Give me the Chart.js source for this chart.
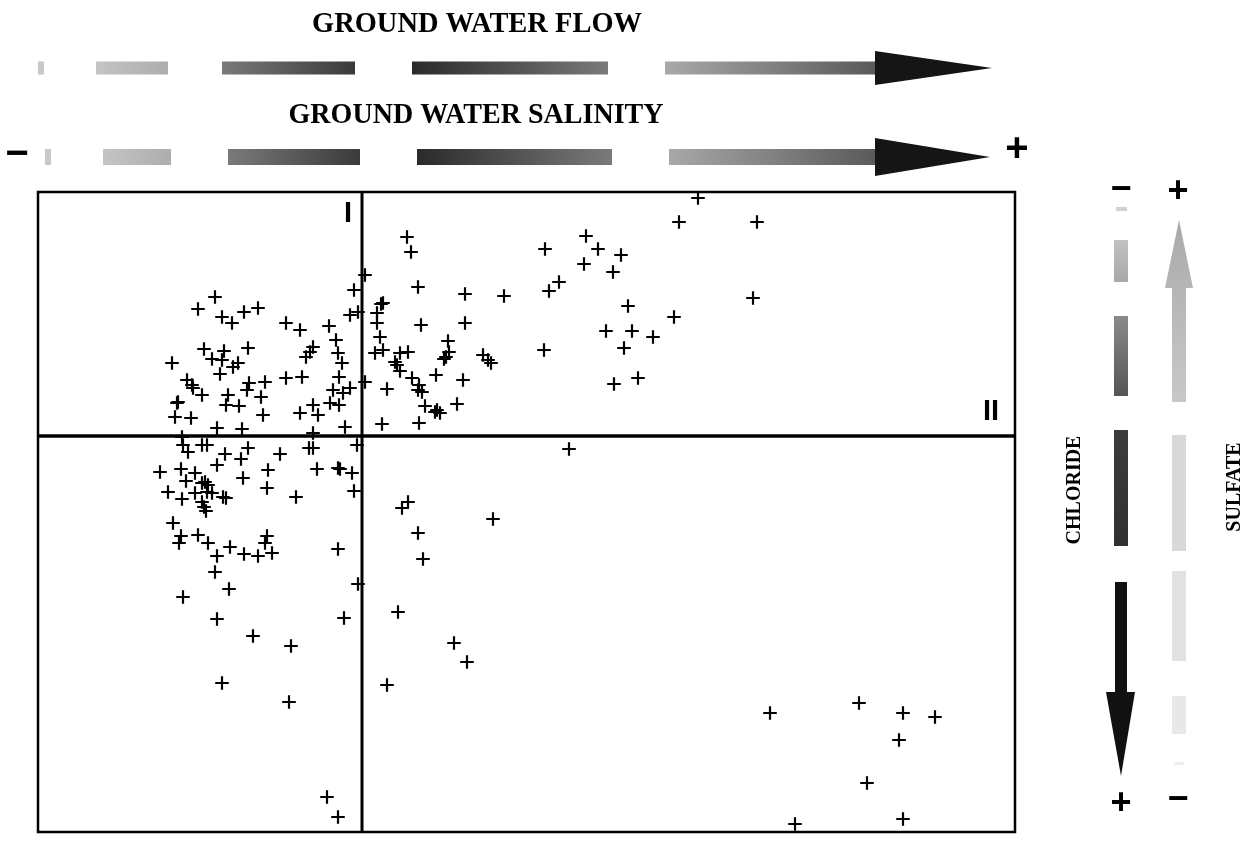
<!DOCTYPE html>
<html>
<head>
<meta charset="utf-8">
<script src="https://cdn.jsdelivr.net/npm/chart.js@4.4.1/dist/chart.umd.min.js"></script>
<style>
  html, body { margin: 0; padding: 0; background: #fff; }
  #wrap { width: 1253px; height: 865px; position: relative; }
  canvas { display: block; }
</style>
</head>
<body>
<div id="wrap"><canvas id="c" width="1253" height="865"></canvas></div>
<script>
// Factor-score style coordinates (x: flow/salinity axis, y: sulfate vs chloride axis)
const xValues = [
  -0.8,-1.2,-0.4,-14.7,-16.4,-14.0,-13.0,-11.8,-10.4,-7.6,-6.2,-3.3,-2.6,-2.4,-2.0,-4.9,-5.2,-5.6,-11.4,-15.8,
  -13.8,-14.0,-15.0,-19.0,-12.4,-12.9,-14.2,-17.5,-17.0,-16.9,-16.0,-9.7,-11.3,-11.5,-7.6,-6.0,-2.3,-2.9,-1.9,-1.2,
  -13.4,-13.6,-12.3,-10.1,-9.9,-18.5,-18.4,-18.7,-17.1,-4.9,-4.4,-3.2,-2.3,-6.2,-14.5,-12.0,-1.7,-4.9,0.3,0.3,
  4.5,4.9,5.6,10.3,14.2,2.1,1.9,1.5,1.5,5.9,10.3,1.8,8.6,8.7,8.4,8.2,1.3,2.1,3.8,4.6,
  3.3,3.5,3.8,12.1,12.6,12.9,7.4,10.1,5.0,5.7,6.0,5.6,2.5,6.3,7.5,7.8,7.3,9.5,2.0,5.7,
  18.3,22.4,23.6,25.9,22.2,25.1,19.7,18.7,26.6,31.7,33.6,39.5,39.1,31.2,24.4,27.0,29.1,26.2,18.2,25.2,27.6,
  -18.0,-17.9,-17.4,-16.0,-15.5,-11.4,-13.7,-12.1,-14.5,-8.2,-5.3,-4.9,-0.5,-20.2,-18.1,-17.6,-16.7,-16.0,-15.7,-15.4,
  -15.5,-15.0,-9.4,-11.9,-4.5,-2.4,-2.2,-1.0,-19.4,-18.0,-16.7,-16.0,-15.8,-15.6,-13.9,-13.6,-9.5,-6.6,-0.8,-18.9,
  -18.1,-18.3,-16.4,-15.4,-13.2,-14.5,-14.7,-11.8,-10.4,-9.5,-9.7,-9.0,-2.4,-0.4,-17.9,-13.3,-14.5,-1.8,-10.9,-7.1,
  -14.0,-7.3,-3.5,-2.4,
  4.6,4.0,13.1,5.6,6.1,3.6,9.2,10.5,2.5,20.7,40.8,49.7,54.1,57.3,53.7,50.5,43.3,54.1
];
const yValues = [
  14.6,12.1,12.4,13.9,12.7,11.9,11.3,12.4,12.8,11.3,10.6,11.0,9.6,8.3,7.3,8.9,8.4,7.9,8.8,8.7,
  8.5,7.6,7.7,7.3,7.3,6.9,6.2,5.6,5.1,4.8,4.1,5.4,5.3,4.6,5.8,5.9,5.9,4.6,4.3,4.8,
  4.1,3.1,3.0,3.9,2.1,3.3,3.4,1.9,1.8,3.1,2.1,3.3,3.1,2.3,0.8,0.7,0.9,0.3,16.1,5.4,
  19.9,18.4,14.9,14.2,14.0,13.3,13.2,12.3,11.3,11.1,11.3,9.9,9.5,8.4,7.9,7.7,8.3,8.6,8.3,8.4,
  7.4,7.1,6.5,8.1,7.6,7.3,6.1,5.6,5.8,5.1,4.4,4.6,4.7,3.0,2.6,2.3,2.4,3.2,1.2,1.3,
  18.7,20.0,18.7,18.1,17.2,16.4,15.4,14.5,13.0,21.4,23.8,21.4,13.8,11.9,10.5,10.5,9.9,8.8,8.6,5.2,5.8,
  -0.1,-0.9,-1.6,-0.9,-0.9,-1.2,-1.8,-2.3,-2.9,-1.8,-1.2,-1.2,-0.9,-3.6,-3.3,-4.5,-3.7,-4.7,-4.6,-4.9,
  -5.6,-5.7,-3.4,-4.2,-3.3,-3.2,-3.3,-3.7,-5.6,-6.3,-5.7,-6.6,-7.1,-7.5,-6.1,-6.2,-5.2,-6.1,-5.5,-8.7,
  -10.0,-10.7,-9.9,-10.7,-11.1,-12.0,-13.6,-11.8,-12.0,-10.0,-10.7,-11.7,-11.3,-14.8,-16.1,-15.3,-18.3,-18.2,-20.0,-21.0,
  -24.7,-26.6,-36.1,-38.1,
  -6.6,-7.2,-8.3,-9.7,-12.3,-17.6,-20.7,-22.6,-24.9,-1.3,-27.7,-26.7,-27.7,-28.1,-30.4,-34.7,-38.8,-38.3
];
const xRange = [-32.4, 65.3];
const yRange = [-39.6, 24.4];
const quadrantLabels = ['I', 'II'];
const titles = ['GROUND WATER FLOW', 'GROUND WATER SALINITY'];
const sideLabels = ['CHLORIDE', 'SULFATE'];

const points = xValues.map((x, i) => ({ x: x, y: yValues[i] }));

function grad(ctx, x0, y0, x1, y1, c0, c1) {
  const g = ctx.createLinearGradient(x0, y0, x1, y1);
  g.addColorStop(0, c0); g.addColorStop(1, c1);
  return g;
}

const decor = {
  id: 'decor',
  afterDraw(chart) {
    const ctx = chart.ctx;
    const a = chart.chartArea;
    const xs = chart.scales.x, ys = chart.scales.y;
    ctx.save();
    // frame
    ctx.strokeStyle = '#000';
    ctx.lineWidth = 2.5;
    ctx.strokeRect(a.left, a.top, a.right - a.left, a.bottom - a.top);
    // quadrant lines
    const x0 = xs.getPixelForValue(0), y0 = ys.getPixelForValue(0);
    ctx.lineWidth = 3;
    ctx.beginPath(); ctx.moveTo(x0, a.top); ctx.lineTo(x0, a.bottom); ctx.stroke();
    ctx.lineWidth = 3.5;
    ctx.beginPath(); ctx.moveTo(a.left, y0); ctx.lineTo(a.right, y0); ctx.stroke();

    // quadrant labels
    ctx.fillStyle = '#000';
    ctx.font = "bold 29px 'Liberation Sans'";
    ctx.textAlign = 'center'; ctx.textBaseline = 'middle';
    ctx.fillText(quadrantLabels[0], x0 - 14, 214, 9);
    ctx.fillText(quadrantLabels[1], 991, 412, 18);

    // titles
    ctx.textBaseline = 'alphabetic';
    ctx.font = "bold 29px 'Liberation Serif'";
    ctx.fillText(titles[0], 477, 32, 330);
    ctx.fillText(titles[1], 476, 123, 375);
    ctx.textBaseline = 'middle';

    // horizontal bands
    function hrow(yc, h, dims) {
      ctx.fillStyle = '#c8c8c8'; ctx.fillRect(dims.sq[0], yc - h / 2, dims.sq[1] - dims.sq[0], h);
      ctx.fillStyle = grad(ctx, dims.b1[0], 0, dims.b1[1], 0, '#c4c4c4', '#adadad');
      ctx.fillRect(dims.b1[0], yc - h / 2, dims.b1[1] - dims.b1[0], h);
      ctx.fillStyle = grad(ctx, dims.b2[0], 0, dims.b2[1], 0, '#7a7a7a', '#3a3a3a');
      ctx.fillRect(dims.b2[0], yc - h / 2, dims.b2[1] - dims.b2[0], h);
      ctx.fillStyle = grad(ctx, dims.b3[0], 0, dims.b3[1], 0, '#2a2a2a', '#7a7a7a');
      ctx.fillRect(dims.b3[0], yc - h / 2, dims.b3[1] - dims.b3[0], h);
      ctx.fillStyle = grad(ctx, dims.sh[0], 0, dims.sh[1], 0, '#a8a8a8', '#5a5a5a');
      ctx.fillRect(dims.sh[0], yc - h / 2, dims.sh[1] - dims.sh[0] + 2, h);
      ctx.fillStyle = '#151515';
      ctx.beginPath();
      ctx.moveTo(dims.sh[1], yc - dims.hh / 2);
      ctx.lineTo(dims.tip, yc);
      ctx.lineTo(dims.sh[1], yc + dims.hh / 2);
      ctx.closePath(); ctx.fill();
    }
    hrow(68, 13, { sq: [38, 44], b1: [96, 168], b2: [222, 355], b3: [412, 608], sh: [665, 875], tip: 992, hh: 34 });
    hrow(157, 16, { sq: [45, 51], b1: [103, 171], b2: [228, 360], b3: [417, 612], sh: [669, 875], tip: 990, hh: 38 });
    ctx.fillStyle = '#000';
    ctx.font = "bold 40px 'Liberation Sans'";
    ctx.fillText('\u2212', 17, 155);
    ctx.fillText('+', 1017, 150);

    // vertical chloride column
    const cx0 = 1114, cx1 = 1128;
    ctx.fillStyle = '#d0d0d0'; ctx.fillRect(cx0 + 2, 207, cx1 - cx0 - 3, 4);
    ctx.fillStyle = grad(ctx, 0, 240, 0, 282, '#c2c2c2', '#a8a8a8'); ctx.fillRect(cx0, 240, cx1 - cx0, 42);
    ctx.fillStyle = grad(ctx, 0, 316, 0, 396, '#8a8a8a', '#555555'); ctx.fillRect(cx0, 316, cx1 - cx0, 80);
    ctx.fillStyle = grad(ctx, 0, 430, 0, 546, '#3c3c3c', '#303030'); ctx.fillRect(cx0, 430, cx1 - cx0, 116);
    ctx.fillStyle = '#111'; ctx.fillRect(cx0 + 1, 582, cx1 - cx0 - 2, 112);
    ctx.beginPath(); ctx.moveTo(1106, 692); ctx.lineTo(1121, 776); ctx.lineTo(1135, 692); ctx.closePath(); ctx.fill();

    // vertical sulfate column
    const sx0 = 1172, sx1 = 1186;
    ctx.fillStyle = grad(ctx, 0, 222, 0, 402, '#aaaaaa', '#c8c8c8');
    ctx.fillRect(sx0, 286, sx1 - sx0, 116);
    ctx.beginPath(); ctx.moveTo(1165, 288); ctx.lineTo(1179, 220); ctx.lineTo(1193, 288); ctx.closePath(); ctx.fill();
    ctx.fillStyle = '#d8d8d8'; ctx.fillRect(sx0, 435, sx1 - sx0, 116);
    ctx.fillStyle = '#e2e2e2'; ctx.fillRect(sx0, 571, sx1 - sx0, 90);
    ctx.fillStyle = '#e8e8e8'; ctx.fillRect(sx0, 696, sx1 - sx0, 38);
    ctx.fillStyle = '#eeeeee'; ctx.fillRect(sx0 + 2, 762, sx1 - sx0 - 4, 3);

    // signs
    ctx.fillStyle = '#000';
    ctx.font = "bold 36px 'Liberation Sans'";
    ctx.fillText('\u2212', 1121, 190);
    ctx.fillText('+', 1178, 192);
    ctx.fillText('+', 1121, 804);
    ctx.fillText('\u2212', 1178, 800);

    // rotated side labels
    ctx.font = "bold 20px 'Liberation Serif'";
    ctx.save(); ctx.translate(1075, 490); ctx.rotate(-Math.PI / 2);
    ctx.fillText(sideLabels[0], 0, 0, 112); ctx.restore();
    ctx.save(); ctx.translate(1235, 487); ctx.rotate(-Math.PI / 2);
    ctx.fillText(sideLabels[1], 0, 0, 100); ctx.restore();
    ctx.restore();
  }
};

new Chart(document.getElementById('c'), {
  type: 'scatter',
  data: {
    datasets: [{
      data: points,
      pointStyle: 'cross',
      pointRadius: 6.8,
      pointHoverRadius: 6.8,
      borderColor: '#000',
      backgroundColor: '#000',
      pointBorderWidth: 2.2,
      clip: false
    }]
  },
  options: {
    responsive: false,
    animation: false,
    events: [],
    layout: { padding: { left: 38, right: 238, top: 192, bottom: 33 } },
    plugins: { legend: { display: false }, tooltip: { enabled: false } },
    scales: {
      x: { type: 'linear', min: xRange[0], max: xRange[1], display: false },
      y: { type: 'linear', min: yRange[0], max: yRange[1], display: false }
    }
  },
  plugins: [decor]
});
</script>
</body>
</html>
